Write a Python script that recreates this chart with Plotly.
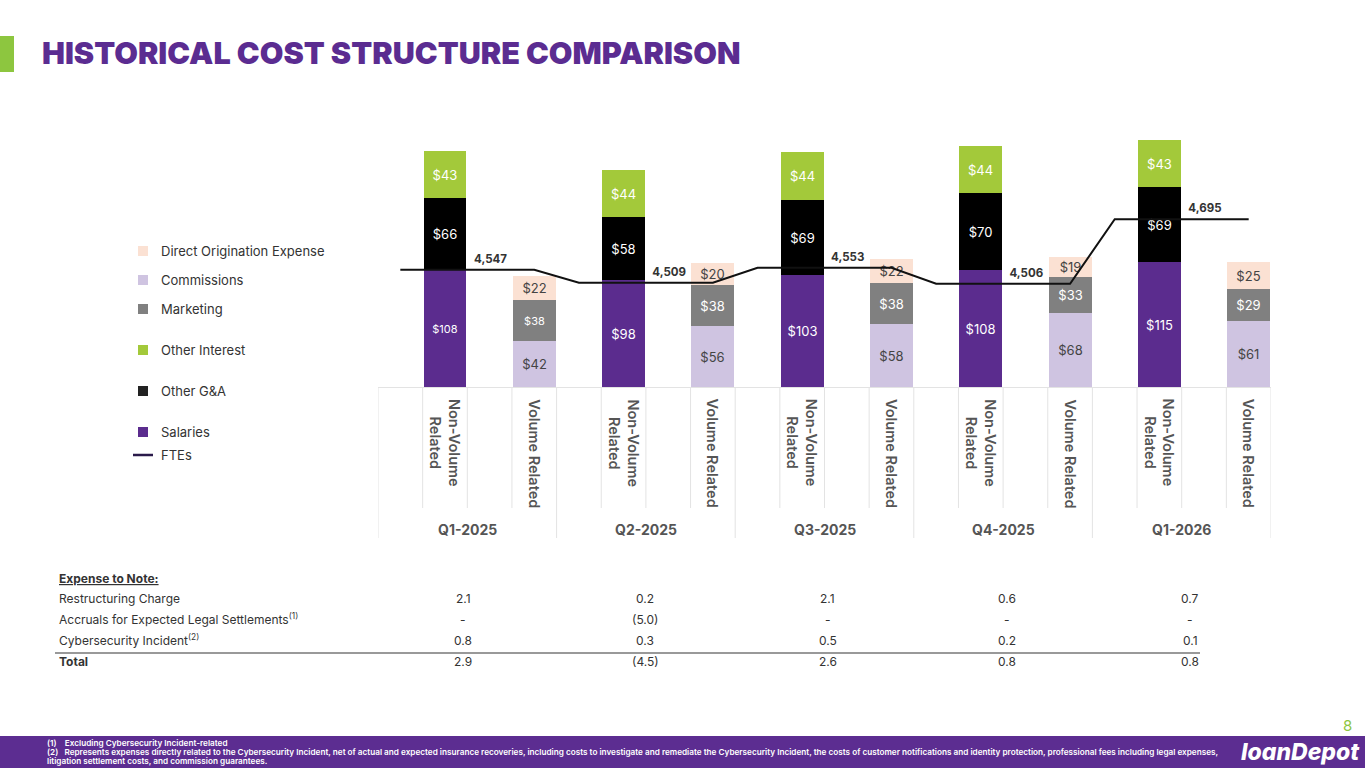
import plotly.graph_objects as go

# ---------------- data ----------------
quarters = ["Q1-2025", "Q2-2025", "Q3-2025", "Q4-2025", "Q1-2026"]
group_labels = ["Non-Volume<br>Related", "Volume Related"]
salaries = [108, 98, 103, 108, 115]
other_ga = [66, 58, 69, 70, 69]
other_interest = [43, 44, 44, 44, 43]
commissions = [42, 56, 58, 68, 61]
marketing = [38, 38, 38, 33, 29]
direct_orig = [22, 20, 22, 19, 25]
ftes = [4547, 4509, 4553, 4506, 4695]

table_title = "Expense to Note:"
row_names = ["Restructuring Charge",
             "Accruals for Expected Legal Settlements<sup>(1)</sup>",
             "Cybersecurity Incident<sup>(2)</sup>"]
restructuring = ["2.1", "0.2", "2.1", "0.6", "0.7"]
accruals = ["-", "(5.0)", "-", "-", "-"]
cyber = ["0.8", "0.3", "0.5", "0.2", "0.1"]
total = ["2.9", "(4.5)", "2.6", "0.8", "0.8"]

footnote1 = "(1)    Excluding Cybersecurity Incident-related"
footnote2 = ("(2)   Represents expenses directly related to the Cybersecurity Incident, net of actual and expected "
             "insurance recoveries, including costs to investigate and remediate the Cybersecurity Incident, the costs "
             "of customer notifications and identity protection, professional fees including legal expenses,")
footnote3 = "litigation settlement costs, and commission guarantees."

# ---------------- style ----------------
PURPLE = "#5B2C8E"
BLACK = "#000000"
GREEN = "#A3C93A"
GRAY = "#808080"
LAVENDER = "#CFC4E1"
PEACH = "#FBE1D3"
TXT = "#333333"
FONT = "Inter"
W, H = 1365, 768


def px(x):
    return x / W


def py(y):
    return 1 - y / H


n = len(quarters)
nv_x = [2 * i + 0.75 for i in range(n)]
vr_x = [2 * i + 1.75 for i in range(n)]

fig = go.Figure()


def add_bar(xs, vals, name, color, tcolor, sizes=None):
    fig.add_trace(go.Bar(
        x=xs, y=vals, name=name, width=0.48, marker=dict(color=color, line=dict(width=0)),
        text=[f"${v}" for v in vals], textposition="inside", insidetextanchor="middle",
        textangle=0, constraintext="none",
        textfont=dict(color=tcolor, size=sizes if sizes else 13, family=FONT),
        hoverinfo="skip", showlegend=False))


add_bar(nv_x, salaries, "Salaries", PURPLE, "white", [11, 13, 13, 13, 13])
add_bar(nv_x, other_ga, "Other G&A", BLACK, "white")
add_bar(nv_x, other_interest, "Other Interest", GREEN, "white")
add_bar(vr_x, commissions, "Commissions", LAVENDER, "#444444")
add_bar(vr_x, marketing, "Marketing", GRAY, "white", [11, 13, 13, 13, 13])
add_bar(vr_x, direct_orig, "Direct Origination Expense", PEACH, "#444444")

# FTE line
lx, ly = [], []
for i, f in enumerate(ftes):
    lx += [2 * i + 0.25, 2 * i + 1.75]
    ly += [f, f]
fig.add_trace(go.Scatter(x=lx, y=ly, yaxis="y2", mode="lines",
                         line=dict(color="#111111", width=2), hoverinfo="skip", showlegend=False))
fig.add_trace(go.Scatter(x=[2 * i + 1.26 for i in range(n)], y=[f + 12 for f in ftes], yaxis="y2",
                         mode="text",
                         text=[f"{v:,}" for v in ftes], textposition="top center",
                         textfont=dict(size=11.5, color=TXT, family=FONT, weight=700),
                         hoverinfo="skip", showlegend=False))

shapes = []
annotations = []

# category separators
for i in range(n + 1):
    shapes.append(dict(type="line", xref="x", yref="paper", x0=2 * i, x1=2 * i,
                       y0=py(387), y1=py(538), line=dict(color="#E3E3E3", width=1)))
    if i < n:
        for off in (0.5, 1.0, 1.5):
            shapes.append(dict(type="line", xref="x", yref="paper", x0=2 * i + off, x1=2 * i + off,
                               y0=py(387), y1=py(508), line=dict(color="#E3E3E3", width=1)))

for i, q in enumerate(quarters):
    annotations.append(dict(x=nv_x[i], y=py(397), xref="x", yref="paper", text=group_labels[0],
                            textangle=90, xanchor="center", yanchor="top", showarrow=False,
                            font=dict(size=14.5, color="#555555", family=FONT, weight=600)))
    annotations.append(dict(x=vr_x[i], y=py(397), xref="x", yref="paper", text=group_labels[1],
                            textangle=90, xanchor="center", yanchor="top", showarrow=False,
                            font=dict(size=14.5, color="#555555", family=FONT, weight=600)))
    annotations.append(dict(x=2 * i + 1, y=py(529), xref="x", yref="paper", text=q,
                            xanchor="center", yanchor="middle", showarrow=False,
                            font=dict(size=14, color="#555555", family=FONT, weight=700)))

# manual legend
legend_items = [("Direct Origination Expense", PEACH, 251),
                ("Commissions", LAVENDER, 280),
                ("Marketing", GRAY, 309),
                ("Other Interest", GREEN, 350),
                ("Other G&A", "#222222", 391),
                ("Salaries", PURPLE, 432)]
for name, col, yy in legend_items:
    shapes.append(dict(type="rect", xref="paper", yref="paper", x0=px(138), x1=px(148),
                       y0=py(yy + 5), y1=py(yy - 5), fillcolor=col, line=dict(width=0)))
    annotations.append(dict(x=px(159), y=py(yy), xref="paper", yref="paper", text=name,
                            xanchor="left", yanchor="middle", showarrow=False,
                            font=dict(size=13, color=TXT, family=FONT)))
shapes.append(dict(type="line", xref="paper", yref="paper", x0=px(133), x1=px(153),
                   y0=py(455), y1=py(455), line=dict(color="#2A1A4A", width=2.5)))
annotations.append(dict(x=px(159), y=py(455), xref="paper", yref="paper", text="FTEs",
                        xanchor="left", yanchor="middle", showarrow=False,
                        font=dict(size=13, color=TXT, family=FONT)))

# title
shapes.append(dict(type="rect", xref="paper", yref="paper", x0=0, x1=px(14), y0=py(72), y1=py(36),
                   fillcolor="#8DC63F", line=dict(width=0)))
annotations.append(dict(x=px(40), y=py(53), xref="paper", yref="paper",
                        text="HISTORICAL COST STRUCTURE COMPARISON", xanchor="left", yanchor="middle",
                        showarrow=False, font=dict(size=30.6, color="#5B2C91", family=FONT, weight=900)))

# table
col_x = [463, 645, 828, 1007, 1190]
annotations.append(dict(x=px(57), y=py(578), xref="paper", yref="paper", text=f"<b><u>{table_title}</u></b>",
                        xanchor="left", yanchor="middle", showarrow=False,
                        font=dict(size=12, color=TXT, family=FONT)))
rows = [(row_names[0], restructuring, 598), (row_names[1], accruals, 619), (row_names[2], cyber, 640)]
for name, vals, yy in rows:
    annotations.append(dict(x=px(57), y=py(yy), xref="paper", yref="paper", text=name,
                            xanchor="left", yanchor="middle", showarrow=False,
                            font=dict(size=12, color=TXT, family=FONT)))
    for cx, v in zip(col_x, vals):
        annotations.append(dict(x=px(cx), y=py(yy), xref="paper", yref="paper", text=v,
                                xanchor="center", yanchor="middle", showarrow=False,
                                font=dict(size=12, color=TXT, family=FONT)))
shapes.append(dict(type="line", xref="paper", yref="paper", x0=px(55), x1=px(1200),
                   y0=py(653), y1=py(653), line=dict(color="#777777", width=1.5)))
annotations.append(dict(x=px(57), y=py(661), xref="paper", yref="paper", text="<b>Total</b>",
                        xanchor="left", yanchor="middle", showarrow=False,
                        font=dict(size=12, color=TXT, family=FONT)))
for cx, v in zip(col_x, total):
    annotations.append(dict(x=px(cx), y=py(661), xref="paper", yref="paper", text=v,
                            xanchor="center", yanchor="middle", showarrow=False,
                            font=dict(size=12, color=TXT, family=FONT)))

# footer
shapes.append(dict(type="rect", xref="paper", yref="paper", x0=0, x1=1, y0=0, y1=py(736),
                   fillcolor="#5C2D91", line=dict(width=0), layer="below"))
for t, yy in [(footnote1, 742.5), (footnote2, 751.5), (footnote3, 760.5)]:
    annotations.append(dict(x=px(45), y=py(yy), xref="paper", yref="paper", text=t,
                            xanchor="left", yanchor="middle", showarrow=False,
                            font=dict(size=8.2, color="white", family=FONT, weight=600)))
annotations.append(dict(x=px(1300), y=py(752), xref="paper", yref="paper", text="loanDepot",
                        xanchor="center", yanchor="middle", showarrow=False,
                        font=dict(size=23, color="white", family=FONT, weight=800, style="italic")))
annotations.append(dict(x=px(1347), y=py(725), xref="paper", yref="paper", text="8",
                        xanchor="center", yanchor="middle", showarrow=False,
                        font=dict(size=15, color="#8DC63F", family=FONT)))

fig.update_layout(
    width=W, height=H, margin=dict(l=0, r=0, t=0, b=0),
    paper_bgcolor="white", plot_bgcolor="white",
    barmode="stack", bargap=0,
    font=dict(family=FONT, color=TXT),
    xaxis=dict(domain=[px(378), px(1271)], range=[0, 10], showgrid=False, zeroline=False,
               showticklabels=False, showline=True, linecolor="#E3E3E3", linewidth=1, fixedrange=True),
    yaxis=dict(domain=[py(387), py(130)], range=[0, 236.4], visible=False, fixedrange=True),
    yaxis2=dict(domain=[py(387), py(130)], range=[4203, 4957], overlaying="y", visible=False,
                fixedrange=True),
    shapes=shapes, annotations=annotations, showlegend=False,
)

fig.write_html("out.html", config={"displayModeBar": False},
               post_script="document.body.style.margin='0';")
